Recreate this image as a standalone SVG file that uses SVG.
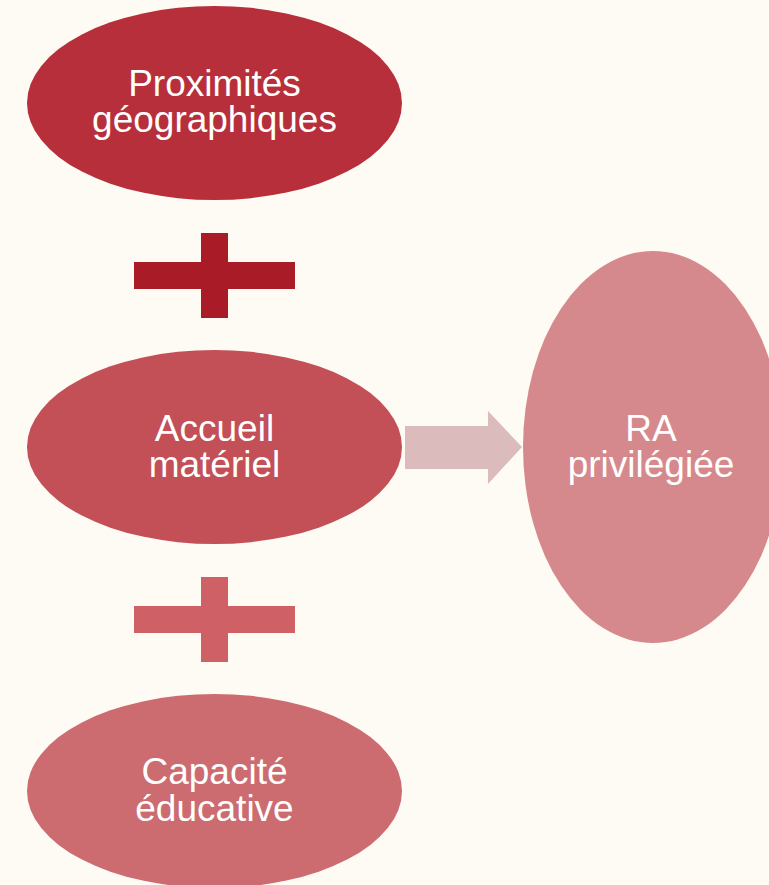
<svg xmlns="http://www.w3.org/2000/svg" width="769" height="885" viewBox="0 0 769 885">
  <style>
    .lbl { font-family: "Liberation Sans", Arial, sans-serif; font-size: 37px; fill: #FFFFFF; text-anchor: middle; }
  </style>
  <rect x="0" y="0" width="769" height="885" fill="#FEFBF4"/>

  <g id="connectors">
    <!-- plus signs between the stacked ellipses -->
    <path id="plus-1" d="M201,233 H228 V262 H295 V289 H228 V318 H201 V289 H134 V262 H201 Z" fill="#A91B27"/>
    <path id="plus-2" d="M201,577 H228 V606 H295 V633 H228 V662 H201 V633 H134 V606 H201 Z" fill="#CF6066"/>
    <!-- block arrow to the result -->
    <path id="arrow" d="M405,426 H488 V411 L522,447 L488,484 V469 H405 Z" fill="#DCBBBD"/>
  </g>

  <g id="node-proximites">
    <ellipse cx="214.5" cy="103" rx="187.5" ry="97" fill="#B72F3A"/>
    <text class="lbl" x="214.5" y="96">Proximités</text>
    <text class="lbl" x="214.5" y="132">géographiques</text>
  </g>

  <g id="node-accueil">
    <ellipse cx="214.5" cy="447" rx="187.5" ry="97" fill="#C34F57"/>
    <text class="lbl" x="214.5" y="441">Accueil</text>
    <text class="lbl" x="214.5" y="477">matériel</text>
  </g>

  <g id="node-capacite">
    <ellipse cx="214.5" cy="791" rx="187.5" ry="97" fill="#CC6C71"/>
    <text class="lbl" x="214.5" y="784">Capacité</text>
    <text class="lbl" x="214.5" y="821">éducative</text>
  </g>

  <g id="node-ra">
    <ellipse cx="653" cy="447" rx="130" ry="196" fill="#D6898C"/>
    <text class="lbl" x="651" y="441">RA</text>
    <text class="lbl" x="651" y="477">privilégiée</text>
  </g>
</svg>
